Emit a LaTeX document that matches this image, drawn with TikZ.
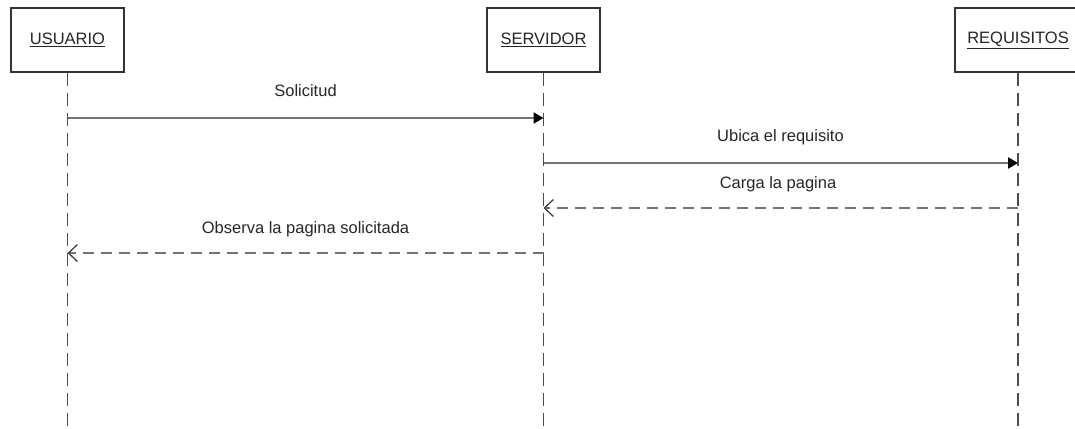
\documentclass[tikz,border=0pt]{standalone}
\usepackage{fontspec}
\setmainfont{Liberation Sans}
\usetikzlibrary{arrows.meta}

\tikzset{
  actor/.style={draw=black!80, line width=1.7pt, fill=white, minimum width=113pt,
    minimum height=64pt, font=\fontsize{16.5}{19}\selectfont, text=black!85},
  lifeline/.style={draw=black!70, line width=1.7pt, dash pattern=on 13pt off 7pt},
  call/.style={draw=black!55, line width=2.6pt,
    -{Triangle[length=10pt,width=11pt,fill=black,color=black]}},
  reply/.style={draw=black!55, line width=2.6pt, dash pattern=on 11pt off 7pt,
    -{Straight Barb[length=9pt,width=17pt,line width=1.3pt,color=black!75]}},
  msg/.style={font=\fontsize{16.5}{19}\selectfont, text=black!85, anchor=base}
}

\begin{document}
\begin{tikzpicture}[x=1pt,y=-1pt]
\useasboundingbox (0,0) rectangle (1075,428);

\node[actor] (usuario) at (67.5,40) {\underline{USUARIO}};
\node[actor] (servidor) at (543.5,40) {\underline{SERVIDOR}};
\node[actor, minimum width=126pt] (requisitos) at (1018,40) {\underline{REQUISITOS}};

\coordinate (uend) at (67.5,428);
\coordinate (send) at (543.5,428);
\coordinate (rend) at (1018,428);
\draw[lifeline] (usuario.south) -- (uend);
\draw[lifeline] (servidor.south) -- (send);
\draw[lifeline] (requisitos.south) -- (rend);

\coordinate (u1) at (67.5,118);
\coordinate (s1) at (543.5,118);
\draw[call] (u1) -- (s1);
\node[msg] (solicitud) at (305.5,96) {Solicitud};

\coordinate (s2) at (543.5,163);
\coordinate (r2) at (1018,163);
\draw[call] (s2) -- (r2);
\node[msg] (ubica) at (780.5,141) {Ubica el requisito};

\coordinate (r3) at (1018,208);
\coordinate (s3) at (543.5,208);
\draw[reply] (r3) -- (s3);
\node[msg] (carga) at (778,188) {Carga la pagina};

\coordinate (s4) at (543.5,253);
\coordinate (u4) at (67.5,253);
\draw[reply] (s4) -- (u4);
\node[msg] (observa) at (305.5,233) {Observa la pagina solicitada};
\end{tikzpicture}
\end{document}
